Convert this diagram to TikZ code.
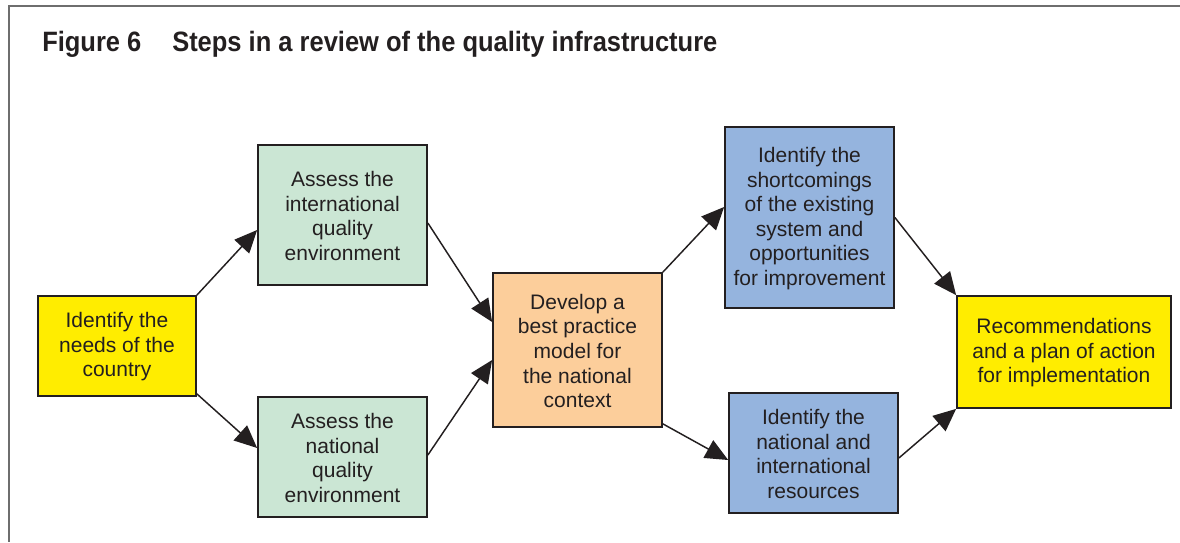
\documentclass[tikz,border=0pt]{standalone}
\usepackage{fontspec}
\setmainfont{Liberation Sans}
\newfontfamily\titlefont[FakeStretch=0.91]{Liberation Sans}
\usetikzlibrary{arrows.meta}
\definecolor{ink}{RGB}{35,31,32}
\definecolor{boxyellow}{RGB}{255,237,0}
\definecolor{boxgreen}{RGB}{203,230,212}
\definecolor{boxorange}{RGB}{252,206,155}
\definecolor{boxblue}{RGB}{149,180,222}
\definecolor{framegray}{RGB}{110,110,110}
\begin{document}
\begin{tikzpicture}[x=0.75pt,y=-0.75pt,
  stepbox/.style={draw=ink, line width=1.3pt, text=ink, align=center, inner sep=0pt,
    font=\fontsize{15.75}{18.4}\selectfont},
  conn/.style={draw=ink, line width=1.1pt, -{Triangle[length=17pt,width=15pt]}},
  titletext/.style={anchor=base west, inner sep=0pt, text=ink,
    font=\titlefont\bfseries\fontsize{21}{25}\selectfont}]
\useasboundingbox (0,0) rectangle (1180,542);
% frame
\draw[framegray, line width=1.3pt] (1180,6) -- (9,6) -- (9,542);
% title
\node[titletext] (fig) at (42,52) {Figure 6};
\node[titletext] (ttl) at (172,52) {Steps in a review of the quality infrastructure};
% boxes
\node[stepbox, fill=boxyellow, minimum width=118.5pt, minimum height=75pt] (needs) at (117,346)
  {\strut Identify the\\needs of the\\country};
\node[stepbox, fill=boxgreen, minimum width=126.75pt, minimum height=105pt] (intl) at (342.5,215)
  {\strut Assess the\\international\\quality\\environment};
\node[stepbox, fill=boxgreen, minimum width=126.75pt, minimum height=90pt] (natl) at (342.5,457)
  {\strut Assess the\\national\\quality\\environment};
\node[stepbox, fill=boxorange, minimum width=126.75pt, minimum height=115.5pt] (dev) at (577.5,350)
  {\strut Develop a\\best practice\\model for\\the national\\context};
\node[stepbox, fill=boxblue, minimum width=126.75pt, minimum height=135.75pt] (short) at (809.5,217.5)
  {\strut Identify the\\shortcomings\\of the existing\\system and\\opportunities\\for improvement};
\node[stepbox, fill=boxblue, minimum width=126.75pt, minimum height=90pt] (res) at (813.5,453)
  {\strut Identify the\\national and\\international\\resources};
\node[stepbox, fill=boxyellow, minimum width=160.5pt, minimum height=84pt] (rec) at (1064,352)
  {\strut Recommendations\\and a plan of action\\for implementation};
% connectors
\draw[conn] (needs.north east) -- ([yshift=-11.25pt]intl.west);
\draw[conn] ([yshift=2.25pt]needs.south east) -- ([yshift=6.75pt]natl.west);
\draw[conn] ([yshift=-6pt]intl.east) -- ([yshift=21pt]dev.west);
\draw[conn] ([yshift=1.5pt]natl.east) -- ([yshift=-7.5pt]dev.west);
\draw[conn] (dev.north east) -- ([yshift=7.9pt]short.west);
\draw[conn] ([yshift=3pt]dev.south east) -- ([yshift=-5.25pt]res.west);
\draw[conn] (short.east) -- (rec.north west);
\draw[conn] ([yshift=-3.75pt]res.east) -- (rec.south west);
\end{tikzpicture}
\end{document}
